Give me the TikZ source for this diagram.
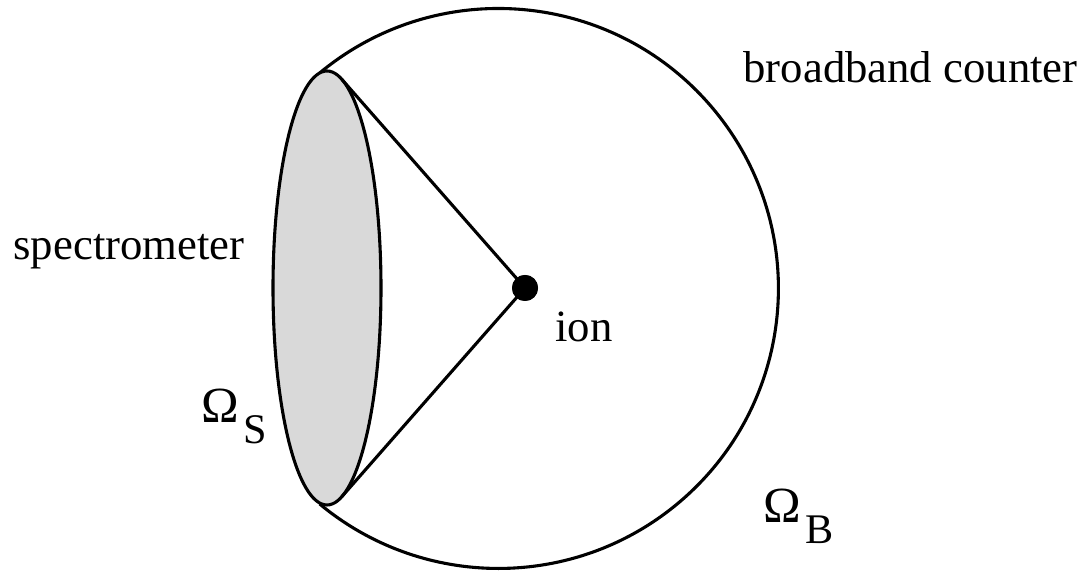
\documentclass[tikz,border=0pt]{standalone}
\usepackage{fontspec}
\setmainfont{Liberation Serif}
\usepackage{tikz}
\usetikzlibrary{calc}

\newcommand{\omsub}[1]{{\fontsize{36}{40}\selectfont Ω}\hspace{0.1em}\raisebox{-0.45em}{\fontsize{30}{34}\selectfont #1}}

\begin{document}
\begin{tikzpicture}[x=0.025cm,y=0.025cm,line width=2.2pt,
    lbl/.style={font=\fontsize{31.8}{36}\selectfont,inner sep=0pt,anchor=base west},
    iondot/.style={circle,fill=black,inner sep=0pt,minimum size=0.65cm}]

    \useasboundingbox (0,0) rectangle (1088,571);

    % ── geometry ──────────────────────────────────────────
    \coordinate (ctr)  at (498,283);
    \coordinate (spec) at (327,283);
    \node[iondot] (ion) at (525,283) {};
    \coordinate (tu) at ($(spec)+(74.2:54 and 217)$);
    \coordinate (tl) at ($(spec)+(-74.2:54 and 217)$);
    \coordinate (su) at ($(spec)+(97.9:54 and 217)$);

    % ── broadband counter (outer sphere) ─────────────────
    \draw (su) arc[start angle=129.7,end angle=-129.7,radius=280];

    % ── spectrometer aperture ────────────────────────────
    \draw[fill=gray!30] (spec) ellipse [x radius=54,y radius=217];
    \draw (tu) -- (ion.center) -- (tl);
    \node[iondot] at (ion) {};

    % ── labels ───────────────────────────────────────────
    \node[lbl] (bc)   at (742,488) {broadband counter};
    \node[lbl] (sp)   at (12,311)  {spectrometer};
    \node[lbl] (ionl) at (554,229) {ion};
    \node[lbl] (oms)  at (200,148) {\omsub{S}};
    \node[lbl] (omb)  at (762,48)  {\omsub{B}};

\end{tikzpicture}
\end{document}
